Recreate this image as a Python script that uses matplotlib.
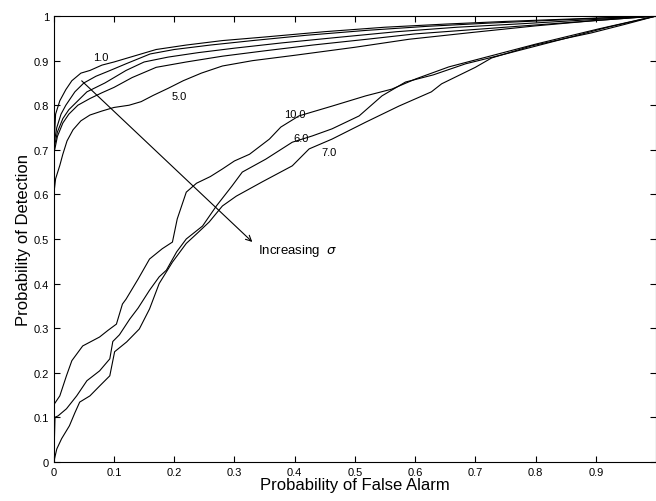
import numpy as np
import matplotlib.pyplot as plt

plt.rcParams['font.family'] = ['Liberation Sans', 'DejaVu Sans']

# ROC curves (false alarm, detection)
pfa_1 = [0, 0.003, 0.01, 0.02, 0.03, 0.045, 0.06, 0.08, 0.1, 0.13, 0.17, 0.22, 0.28, 0.35, 0.45, 0.55, 0.65, 0.75, 0.85, 0.93, 1]
pd_1 = [0.70, 0.78, 0.81, 0.835, 0.855, 0.872, 0.878, 0.89, 0.897, 0.909, 0.925, 0.935, 0.945, 0.953, 0.965, 0.975, 0.982, 0.988, 0.993, 0.997, 1]

pfa_2 = [0, 0.005, 0.012, 0.02, 0.035, 0.05, 0.07, 0.09, 0.12, 0.16, 0.2, 0.26, 0.33, 0.42, 0.52, 0.62, 0.72, 0.82, 0.92, 1]
pd_2 = [0.71, 0.75, 0.78, 0.80, 0.83, 0.85, 0.865, 0.876, 0.893, 0.915, 0.925, 0.935, 0.945, 0.957, 0.968, 0.977, 0.984, 0.99, 0.996, 1]

pfa_3 = [0, 0.006, 0.015, 0.025, 0.04, 0.055, 0.07, 0.085, 0.1, 0.12, 0.15, 0.19, 0.24, 0.3, 0.38, 0.47, 0.57, 0.67, 0.78, 0.88, 1]
pd_3 = [0.70, 0.74, 0.77, 0.79, 0.81, 0.83, 0.84, 0.85, 0.862, 0.878, 0.897, 0.908, 0.918, 0.928, 0.94, 0.952, 0.965, 0.975, 0.983, 0.991, 1]

pfa_4 = [0, 0.006, 0.015, 0.025, 0.04, 0.06, 0.08, 0.1, 0.13, 0.17, 0.22, 0.28, 0.35, 0.43, 0.52, 0.6, 0.7, 0.8, 0.9, 1]
pd_4 = [0.69, 0.73, 0.76, 0.78, 0.80, 0.815, 0.828, 0.84, 0.862, 0.885, 0.897, 0.91, 0.922, 0.935, 0.948, 0.96, 0.97, 0.98, 0.99, 1]

pfa_5 = [0, 0.003, 0.01, 0.015, 0.022, 0.032, 0.045, 0.06, 0.08, 0.1, 0.125, 0.145, 0.165, 0.19, 0.215, 0.245, 0.28, 0.33, 0.4, 0.5, 0.59, 0.7, 0.8, 0.9, 1]
pd_5 = [0.60, 0.635, 0.665, 0.69, 0.72, 0.745, 0.765, 0.778, 0.787, 0.795, 0.80, 0.808, 0.822, 0.838, 0.855, 0.872, 0.888, 0.9, 0.912, 0.93, 0.948, 0.964, 0.978, 0.99, 1]

pfa_10 = [0, 0.001, 0.01, 0.021, 0.03, 0.048, 0.076, 0.09, 0.104, 0.114, 0.12, 0.14, 0.159, 0.18, 0.197, 0.205, 0.22, 0.237, 0.26, 0.28, 0.3, 0.325, 0.358, 0.377, 0.407, 0.462, 0.518, 0.561, 0.601, 0.656, 0.738, 0.8, 0.849, 0.904, 0.95, 1]
pd_10 = [0, 0.13, 0.148, 0.193, 0.227, 0.26, 0.28, 0.295, 0.309, 0.354, 0.365, 0.41, 0.455, 0.478, 0.493, 0.545, 0.605, 0.625, 0.64, 0.657, 0.675, 0.69, 0.724, 0.751, 0.776, 0.798, 0.821, 0.836, 0.859, 0.886, 0.915, 0.937, 0.953, 0.971, 0.985, 1]

pfa_6 = [0, 0.002, 0.007, 0.021, 0.038, 0.055, 0.076, 0.093, 0.098, 0.109, 0.126, 0.14, 0.159, 0.175, 0.187, 0.204, 0.22, 0.247, 0.27, 0.296, 0.313, 0.352, 0.396, 0.429, 0.462, 0.507, 0.545, 0.584, 0.63, 0.684, 0.75, 0.85, 0.92, 1]
pd_6 = [0, 0.1, 0.103, 0.119, 0.148, 0.182, 0.204, 0.231, 0.27, 0.285, 0.32, 0.345, 0.385, 0.415, 0.43, 0.471, 0.5, 0.529, 0.574, 0.619, 0.65, 0.679, 0.717, 0.731, 0.747, 0.776, 0.821, 0.852, 0.868, 0.893, 0.915, 0.95, 0.975, 1]

pfa_7 = [0, 0.005, 0.013, 0.026, 0.035, 0.043, 0.06, 0.076, 0.093, 0.101, 0.121, 0.142, 0.159, 0.175, 0.197, 0.22, 0.24, 0.258, 0.28, 0.303, 0.346, 0.396, 0.424, 0.462, 0.518, 0.573, 0.627, 0.644, 0.7, 0.727, 0.793, 0.85, 0.892, 0.95, 1]
pd_7 = [0, 0.029, 0.052, 0.081, 0.11, 0.134, 0.148, 0.17, 0.193, 0.247, 0.269, 0.298, 0.343, 0.40, 0.448, 0.49, 0.515, 0.538, 0.574, 0.596, 0.628, 0.664, 0.702, 0.724, 0.762, 0.798, 0.83, 0.848, 0.885, 0.906, 0.933, 0.95, 0.962, 0.982, 1]

curves = [(pfa_1, pd_1), (pfa_2, pd_2), (pfa_3, pd_3), (pfa_4, pd_4), (pfa_5, pd_5),
          (pfa_10, pd_10), (pfa_6, pd_6), (pfa_7, pd_7)]

# curve labels
label_text = ['1.0', '5.0', '10.0', '6.0', '7.0']
label_x = [0.078, 0.209, 0.40, 0.41, 0.457]
label_y = [0.908, 0.821, 0.78, 0.726, 0.695]

x_ticks = np.arange(0, 1.0, 0.1)
y_ticks = np.arange(0, 1.01, 0.1)

fig = plt.figure(figsize=(6.56, 5.02), dpi=100)
ax = fig.add_axes([0.082, 0.078, 0.918, 0.888])

for fx, fy in curves:
    ax.plot(fx, fy, color='black', linewidth=0.8)

for t, lx, ly in zip(label_text, label_x, label_y):
    ax.text(lx, ly, t, fontsize=8, ha='center', va='center')

ax.annotate('', xy=(0.333, 0.489), xytext=(0.043, 0.859),
            arrowprops=dict(arrowstyle='->', color='black', lw=0.8))
ax.text(0.339, 0.475, r'Increasing  $\sigma$', fontsize=9.5, ha='left', va='center')

ax.set_xlim(0, 1)
ax.set_ylim(0, 1)
ax.set_xticks(x_ticks)
ax.set_xticklabels(['0'] + ['%.1f' % v for v in x_ticks[1:]])
ax.set_yticks(y_ticks)
ax.set_yticklabels(['0'] + ['%.1f' % v for v in y_ticks[1:-1]] + ['1'])
ax.tick_params(direction='in', top=True, right=True, labelsize=8, length=4, width=0.8)
for s in ax.spines.values():
    s.set_linewidth(0.8)

ax.set_xlabel('Probability of False Alarm', fontsize=12, labelpad=0)
ax.set_ylabel('Probability of Detection', fontsize=12, labelpad=2)

fig.savefig('out.png', dpi=100)
